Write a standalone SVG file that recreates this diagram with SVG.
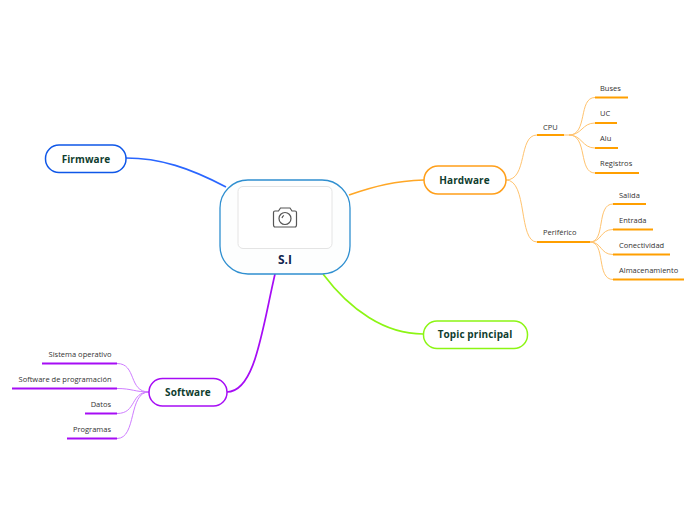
<svg xmlns="http://www.w3.org/2000/svg" width="696" height="520" viewBox="0 0 696 520">
<style>
text{font-family:"Open Sans","Noto Sans",sans-serif;fill:#333}
.t{font-size:7.500px;text-anchor:start}
.e{font-size:7.500px;text-anchor:end}
.m{font-size:10px;font-weight:700;fill:#0f3d2e;text-anchor:middle;letter-spacing:.1px}
.n{fill:#fff;stroke-width:1.5}
.c{fill:none}
.ol{stroke:#ffc36e}.ou{stroke:#ff9f00}
.p{stroke:#a60cf5}.pl{stroke:#cf7dff}
.u{stroke-width:2;fill:none}
.thin{stroke-width:1;fill:none}
</style>
<g id="connectors">
<path class="c" d="M126 158C160 158 190 168 226 187" stroke="#2a66ff" stroke-width="1.700"/>
<path class="c" d="M349 195C375 186 395 181 424 180" stroke="#ffa726" stroke-width="1.700"/>
<path class="c" d="M323 274C350 310 385 334 423 334" stroke="#8cf514" stroke-width="1.700"/>
<path class="c" d="M275 274C262 330 255 392 227 392" stroke="#a60cf5" stroke-width="1.700"/>
<g class="thin ol">
<path d="M506 180C528 180 518 135 537 135"/>
<path d="M506 180C528 180 518 242 537 242"/>
<path d="M564 135H569C588 135 578 97.500 595 97.500"/>
<path d="M569 135C582 135 582 123 595 123"/>
<path d="M569 135C582 135 582 148 595 148"/>
<path d="M569 135C588 135 578 173 595 173"/>
<path d="M590 242C606 242 596 204 613 204"/>
<path d="M590 242C602 242 600 229.500 613 229.500"/>
<path d="M590 242C602 242 600 254.500 613 254.500"/>
<path d="M590 242C606 242 596 279.500 613 279.500"/>
</g>
<g class="thin pl">
<path d="M149 392C128 392 137 363.500 117 363.500"/>
<path d="M149 392C135 392 132 388.500 117 388.500"/>
<path d="M149 392C130 392 137 413.500 117 413.500"/>
<path d="M149 392C128 392 137 438.500 117 438.500"/>
</g>
<g class="u ou">
<path d="M537 135H564"/>
<path d="M595 97.500H628"/>
<path d="M595 123H617"/>
<path d="M595 148H618"/>
<path d="M595 173H639"/>
<path d="M537 242H590"/>
<path d="M613 204H646"/>
<path d="M613 229.500H653"/>
<path d="M613 254.500H670"/>
<path d="M613 279.500H684"/>
</g>
<g class="u p">
<path d="M42 363.500H117"/>
<path d="M12 388.500H117"/>
<path d="M85 413.500H117"/>
<path d="M67 438.500H117"/>
</g>
</g>
<g id="center">
<rect x="220" y="180" width="130" height="94" rx="28" fill="#fdfefe" stroke="#2f8fd0" stroke-width="1.300"/>
<rect x="238" y="186.500" width="94" height="62" rx="5" fill="#fff" stroke="#e4e4e4"/>
<g fill="none" stroke="#555" stroke-width="1.200">
<path d="M273.500 224.500V212.500Q273.500 211 275 211H278.500L280.500 208H290L292 211H295Q296.500 211 296.500 212.500V224.500Q296.500 227 295 227H275Q273.500 227 273.500 224.500Z"/>
<circle cx="285" cy="218.500" r="6"/>
<path d="M282 218Q282.500 216 284 215.500"/>
</g>
<text x="285" y="264" style="font-size:12px;font-weight:700;fill:#10254f;text-anchor:middle">S.I</text>
</g>
<g id="firmware"><rect class="n" x="45.500" y="145" width="80.500" height="27.500" rx="13.500" stroke="#0f57e8"/><text class="m" x="86" y="162.500">Firmware</text></g>
<g id="hardware"><rect class="n" x="424" y="166" width="82" height="28" rx="14" stroke="#ff9f1a"/><text class="m" x="464.500" y="184">Hardware</text></g>
<g id="software"><rect class="n" x="149" y="378.500" width="78" height="27.500" rx="13.500" stroke="#a60cf5"/><text class="m" x="188" y="396">Software</text></g>
<g id="topic"><rect class="n" x="423.500" y="321" width="104" height="27.500" rx="13.500" stroke="#8cf514"/><text class="m" x="475" y="338">Topic principal</text></g>
<g id="cpu"><text class="t" x="543" y="129.500">CPU</text></g>
<g id="buses"><text class="t" x="600" y="91">Buses</text></g>
<g id="uc"><text class="t" x="600" y="116">UC</text></g>
<g id="alu"><text class="t" x="600" y="141">Alu</text></g>
<g id="registros"><text class="t" x="600" y="166">Registros</text></g>
<g id="periferico"><text class="t" x="543" y="235">Periférico</text></g>
<g id="salida"><text class="t" x="619" y="198">Salida</text></g>
<g id="entrada"><text class="t" x="619" y="223">Entrada</text></g>
<g id="conectividad"><text class="t" x="619" y="248">Conectividad</text></g>
<g id="almacenamiento"><text class="t" x="619" y="273">Almacenamiento</text></g>
<g id="sistema"><text class="e" x="111.500" y="357">Sistema operativo</text></g>
<g id="programacion"><text class="e" x="111.500" y="382">Software de programación</text></g>
<g id="datos"><text class="e" x="111" y="407">Datos</text></g>
<g id="programas"><text class="e" x="111" y="432">Programas</text></g>
</svg>
